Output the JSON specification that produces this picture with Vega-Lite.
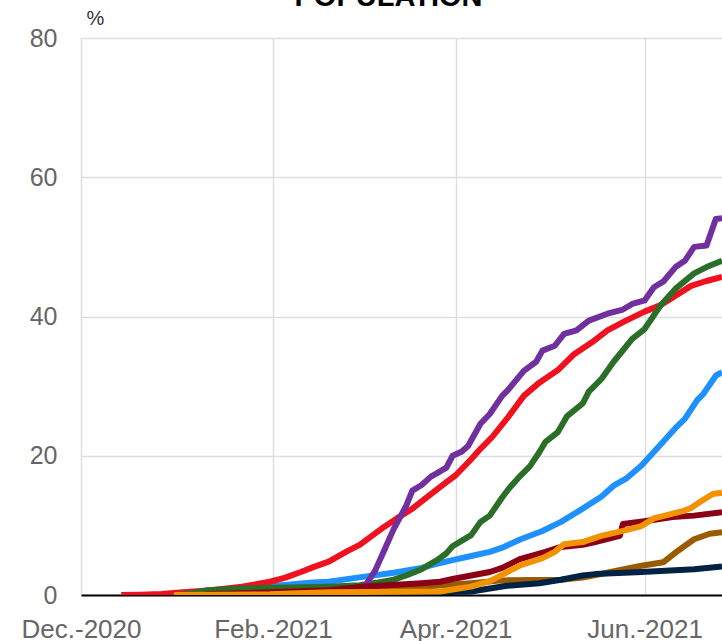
{
  "$schema": "https://vega.github.io/schema/vega-lite/v6.json",
  "autosize": "none",
  "width": 641,
  "height": 557,
  "padding": {"left": 81, "top": 38, "right": 0, "bottom": 46},
  "background": "white",
  "title": {"text": "POPULATION", "fontSize": 29, "fontWeight": "bold", "color": "#000000", "font": "Liberation Sans", "anchor": "middle", "dx": -13, "offset": 0, "baseline": "alphabetic", "dy": 27},
  "config": {"view": {"stroke": null}},
  "data": {"values": [
    {"s":"blue","d":"2021-01-01","v":0},{"s":"blue","d":"2021-01-05","v":0.1},{"s":"blue","d":"2021-01-18","v":0.6},{"s":"blue","d":"2021-02-01","v":1.3},{"s":"blue","d":"2021-02-14","v":1.8},{"s":"blue","d":"2021-02-19","v":1.9},{"s":"blue","d":"2021-03-02","v":2.6},{"s":"blue","d":"2021-03-12","v":3.2},{"s":"blue","d":"2021-03-21","v":3.9},{"s":"blue","d":"2021-03-27","v":4.6},{"s":"blue","d":"2021-03-31","v":5.0},{"s":"blue","d":"2021-04-06","v":5.6},{"s":"blue","d":"2021-04-12","v":6.2},{"s":"blue","d":"2021-04-16","v":6.8},{"s":"blue","d":"2021-04-22","v":8.0},{"s":"blue","d":"2021-04-29","v":9.2},{"s":"blue","d":"2021-05-05","v":10.5},{"s":"blue","d":"2021-05-12","v":12.4},{"s":"blue","d":"2021-05-18","v":14.1},{"s":"blue","d":"2021-05-22","v":15.7},{"s":"blue","d":"2021-05-26","v":16.7},{"s":"blue","d":"2021-05-31","v":18.6},{"s":"blue","d":"2021-06-07","v":22.0},{"s":"blue","d":"2021-06-11","v":24.0},{"s":"blue","d":"2021-06-14","v":25.3},{"s":"blue","d":"2021-06-18","v":28.0},{"s":"blue","d":"2021-06-20","v":28.9},{"s":"blue","d":"2021-06-24","v":31.5},{"s":"blue","d":"2021-06-26","v":32.0},
    {"s":"red","d":"2020-12-14","v":0},{"s":"red","d":"2020-12-20","v":0.05},{"s":"red","d":"2020-12-27","v":0.15},{"s":"red","d":"2021-01-03","v":0.4},{"s":"red","d":"2021-01-12","v":0.7},{"s":"red","d":"2021-01-22","v":1.2},{"s":"red","d":"2021-01-31","v":1.9},{"s":"red","d":"2021-02-05","v":2.5},{"s":"red","d":"2021-02-10","v":3.3},{"s":"red","d":"2021-02-14","v":4.0},{"s":"red","d":"2021-02-19","v":4.8},{"s":"red","d":"2021-02-25","v":6.3},{"s":"red","d":"2021-03-01","v":7.2},{"s":"red","d":"2021-03-08","v":9.5},{"s":"red","d":"2021-03-13","v":11.0},{"s":"red","d":"2021-03-18","v":12.4},{"s":"red","d":"2021-03-24","v":14.5},{"s":"red","d":"2021-03-29","v":16.2},{"s":"red","d":"2021-04-01","v":17.2},{"s":"red","d":"2021-04-06","v":19.5},{"s":"red","d":"2021-04-09","v":21.0},{"s":"red","d":"2021-04-13","v":22.8},{"s":"red","d":"2021-04-18","v":25.6},{"s":"red","d":"2021-04-23","v":28.6},{"s":"red","d":"2021-04-28","v":30.5},{"s":"red","d":"2021-05-04","v":32.3},{"s":"red","d":"2021-05-09","v":34.5},{"s":"red","d":"2021-05-15","v":36.3},{"s":"red","d":"2021-05-20","v":38.0},{"s":"red","d":"2021-05-26","v":39.4},{"s":"red","d":"2021-06-01","v":40.7},{"s":"red","d":"2021-06-06","v":41.6},{"s":"red","d":"2021-06-11","v":43.0},{"s":"red","d":"2021-06-16","v":44.4},{"s":"red","d":"2021-06-21","v":45.1},{"s":"red","d":"2021-06-26","v":45.7},
    {"s":"green","d":"2020-12-31","v":0},{"s":"green","d":"2021-01-05","v":0.2},{"s":"green","d":"2021-01-11","v":0.7},{"s":"green","d":"2021-01-20","v":0.9},{"s":"green","d":"2021-01-28","v":1.0},{"s":"green","d":"2021-02-10","v":1.1},{"s":"green","d":"2021-02-19","v":1.2},{"s":"green","d":"2021-03-01","v":1.4},{"s":"green","d":"2021-03-07","v":1.8},{"s":"green","d":"2021-03-12","v":2.2},{"s":"green","d":"2021-03-16","v":2.8},{"s":"green","d":"2021-03-21","v":3.7},{"s":"green","d":"2021-03-24","v":4.5},{"s":"green","d":"2021-03-26","v":5.0},{"s":"green","d":"2021-03-29","v":6.0},{"s":"green","d":"2021-03-31","v":7.0},{"s":"green","d":"2021-04-03","v":7.8},{"s":"green","d":"2021-04-06","v":8.6},{"s":"green","d":"2021-04-09","v":10.5},{"s":"green","d":"2021-04-12","v":11.4},{"s":"green","d":"2021-04-16","v":14.0},{"s":"green","d":"2021-04-18","v":15.2},{"s":"green","d":"2021-04-21","v":16.7},{"s":"green","d":"2021-04-25","v":18.5},{"s":"green","d":"2021-04-28","v":20.5},{"s":"green","d":"2021-04-30","v":22.0},{"s":"green","d":"2021-05-04","v":23.4},{"s":"green","d":"2021-05-07","v":25.7},{"s":"green","d":"2021-05-12","v":27.5},{"s":"green","d":"2021-05-14","v":29.2},{"s":"green","d":"2021-05-18","v":31.0},{"s":"green","d":"2021-05-22","v":33.5},{"s":"green","d":"2021-05-28","v":36.8},{"s":"green","d":"2021-06-01","v":38.2},{"s":"green","d":"2021-06-06","v":41.5},{"s":"green","d":"2021-06-11","v":44.0},{"s":"green","d":"2021-06-17","v":46.2},{"s":"green","d":"2021-06-21","v":47.1},{"s":"green","d":"2021-06-26","v":48.0},
    {"s":"purple","d":"2021-02-28","v":0.3},{"s":"purple","d":"2021-03-03","v":1.5},{"s":"purple","d":"2021-03-06","v":3.5},{"s":"purple","d":"2021-03-09","v":6.5},{"s":"purple","d":"2021-03-12","v":9.5},{"s":"purple","d":"2021-03-16","v":12.8},{"s":"purple","d":"2021-03-18","v":15.0},{"s":"purple","d":"2021-03-21","v":15.8},{"s":"purple","d":"2021-03-24","v":17.0},{"s":"purple","d":"2021-03-26","v":17.5},{"s":"purple","d":"2021-03-29","v":18.3},{"s":"purple","d":"2021-03-31","v":20.0},{"s":"purple","d":"2021-04-03","v":20.6},{"s":"purple","d":"2021-04-05","v":21.4},{"s":"purple","d":"2021-04-09","v":24.6},{"s":"purple","d":"2021-04-12","v":26.0},{"s":"purple","d":"2021-04-16","v":28.6},{"s":"purple","d":"2021-04-18","v":29.5},{"s":"purple","d":"2021-04-23","v":32.2},{"s":"purple","d":"2021-04-27","v":33.5},{"s":"purple","d":"2021-04-29","v":35.1},{"s":"purple","d":"2021-05-03","v":35.8},{"s":"purple","d":"2021-05-06","v":37.5},{"s":"purple","d":"2021-05-10","v":38.0},{"s":"purple","d":"2021-05-14","v":39.4},{"s":"purple","d":"2021-05-20","v":40.4},{"s":"purple","d":"2021-05-25","v":41.0},{"s":"purple","d":"2021-05-28","v":41.8},{"s":"purple","d":"2021-06-01","v":42.3},{"s":"purple","d":"2021-06-04","v":44.2},{"s":"purple","d":"2021-06-07","v":45.0},{"s":"purple","d":"2021-06-11","v":47.1},{"s":"purple","d":"2021-06-14","v":48.0},{"s":"purple","d":"2021-06-17","v":50.0},{"s":"purple","d":"2021-06-21","v":50.2},{"s":"purple","d":"2021-06-24","v":54.0},{"s":"purple","d":"2021-06-26","v":54.1},
    {"s":"brown","d":"2021-01-20","v":0.1},{"s":"brown","d":"2021-02-19","v":0.3},{"s":"brown","d":"2021-03-12","v":0.7},{"s":"brown","d":"2021-03-21","v":1.2},{"s":"brown","d":"2021-04-06","v":1.7},{"s":"brown","d":"2021-04-16","v":2.1},{"s":"brown","d":"2021-05-05","v":2.2},{"s":"brown","d":"2021-05-12","v":2.5},{"s":"brown","d":"2021-05-21","v":3.3},{"s":"brown","d":"2021-05-31","v":4.2},{"s":"brown","d":"2021-06-07","v":4.7},{"s":"brown","d":"2021-06-11","v":6.1},{"s":"brown","d":"2021-06-17","v":8.0},{"s":"brown","d":"2021-06-22","v":8.8},{"s":"brown","d":"2021-06-26","v":9.0},
    {"s":"navy","d":"2021-03-01","v":0.1},{"s":"navy","d":"2021-04-06","v":0.5},{"s":"navy","d":"2021-04-17","v":1.3},{"s":"navy","d":"2021-04-28","v":1.7},{"s":"navy","d":"2021-05-05","v":2.2},{"s":"navy","d":"2021-05-12","v":2.8},{"s":"navy","d":"2021-05-16","v":3.0},{"s":"navy","d":"2021-05-31","v":3.3},{"s":"navy","d":"2021-06-17","v":3.7},{"s":"navy","d":"2021-06-26","v":4.1},
    {"s":"darkred","d":"2021-01-10","v":0.1},{"s":"darkred","d":"2021-01-31","v":0.4},{"s":"darkred","d":"2021-02-19","v":0.7},{"s":"darkred","d":"2021-03-02","v":1.2},{"s":"darkred","d":"2021-03-21","v":1.7},{"s":"darkred","d":"2021-03-27","v":1.9},{"s":"darkred","d":"2021-03-31","v":2.3},{"s":"darkred","d":"2021-04-12","v":3.3},{"s":"darkred","d":"2021-04-16","v":3.9},{"s":"darkred","d":"2021-04-22","v":5.2},{"s":"darkred","d":"2021-04-30","v":6.2},{"s":"darkred","d":"2021-05-05","v":6.9},{"s":"darkred","d":"2021-05-12","v":7.2},{"s":"darkred","d":"2021-05-16","v":7.6},{"s":"darkred","d":"2021-05-24","v":8.5},{"s":"darkred","d":"2021-05-25","v":10.2},{"s":"darkred","d":"2021-06-01","v":10.6},{"s":"darkred","d":"2021-06-10","v":11.2},{"s":"darkred","d":"2021-06-17","v":11.4},{"s":"darkred","d":"2021-06-26","v":11.9},
    {"s":"orange","d":"2020-12-31","v":0},{"s":"orange","d":"2021-01-31","v":0.1},{"s":"orange","d":"2021-02-19","v":0.4},{"s":"orange","d":"2021-03-27","v":0.5},{"s":"orange","d":"2021-04-06","v":1.2},{"s":"orange","d":"2021-04-12","v":2.0},{"s":"orange","d":"2021-04-16","v":2.9},{"s":"orange","d":"2021-04-22","v":4.3},{"s":"orange","d":"2021-04-29","v":5.3},{"s":"orange","d":"2021-05-03","v":6.2},{"s":"orange","d":"2021-05-06","v":7.3},{"s":"orange","d":"2021-05-12","v":7.6},{"s":"orange","d":"2021-05-18","v":8.5},{"s":"orange","d":"2021-05-25","v":9.2},{"s":"orange","d":"2021-05-31","v":9.9},{"s":"orange","d":"2021-06-04","v":11.0},{"s":"orange","d":"2021-06-13","v":12.0},{"s":"orange","d":"2021-06-16","v":12.5},{"s":"orange","d":"2021-06-19","v":13.4},{"s":"orange","d":"2021-06-23","v":14.5},{"s":"orange","d":"2021-06-26","v":14.7}
  ]},
  "mark": {"type": "line", "strokeWidth": 6, "clip": true, "strokeJoin": "round"},
  "encoding": {
    "x": {
      "field": "d", "type": "temporal",
      "scale": {"type": "utc", "domain": [{"year": 2020, "month": 12, "date": 1, "utc": true}, {"year": 2021, "month": 6, "date": 26, "utc": true}]},
      "axis": {
        "title": null,
        "values": [{"year": 2020, "month": 12, "date": 1, "utc": true}, {"year": 2021, "month": 2, "date": 1, "utc": true}, {"year": 2021, "month": 4, "date": 1, "utc": true}, {"year": 2021, "month": 6, "date": 1, "utc": true}],
        "labelExpr": "utcFormat(datum.value, '%b.-%Y')",
        "grid": true, "gridColor": "#dedede", "gridWidth": 1.5,
        "domain": true, "domainColor": "#000000", "domainWidth": 2,
        "ticks": false, "labelPadding": 21, "labelFontSize": 26, "labelColor": "#666666", "labelFont": "Liberation Sans", "labelFlush": false, "labelOverlap": false
      }
    },
    "y": {
      "field": "v", "type": "quantitative",
      "scale": {"domain": [0, 80]},
      "axis": {
        "title": "%", "titleAngle": 0, "titleAlign": "center", "titleBaseline": "middle", "titleX": 14, "titleY": -20,
        "titleFontSize": 20, "titleFontWeight": "normal", "titleColor": "#333333", "titleFont": "Liberation Sans",
        "values": [0, 20, 40, 60, 80],
        "grid": true, "gridColor": "#dedede", "gridWidth": 1.5,
        "domain": false, "ticks": false, "labelPadding": 24, "labelFontSize": 25, "labelColor": "#666666", "labelFont": "Liberation Sans"
      }
    },
    "color": {
      "field": "s", "type": "nominal", "legend": null, "sort": null,
      "scale": {"domain": ["blue", "red", "green", "purple", "brown", "navy", "darkred", "orange"],
                "range": ["#1E90FF", "#F0101E", "#2A6E28", "#7030A0", "#9A5B00", "#002244", "#8B0015", "#F39200"]}
    }
  }
}
